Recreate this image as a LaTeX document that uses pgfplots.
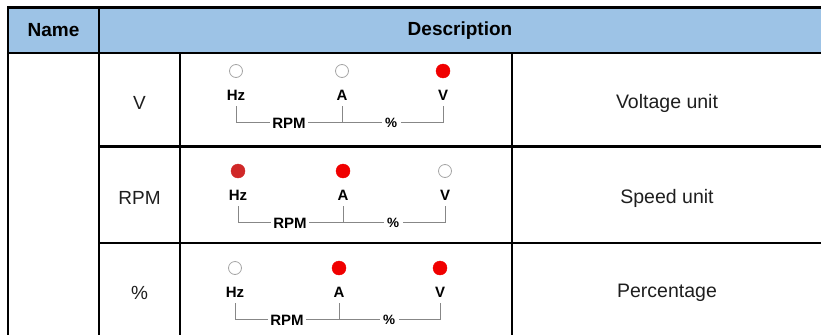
\documentclass[border=0pt]{standalone}
\usepackage{pgfplots}
\pgfplotsset{compat=1.18}
\usepackage{fontspec}
\setmainfont{Liberation Sans}
\definecolor{hdr}{RGB}{157,195,230}
\definecolor{ledon}{RGB}{240,0,0}
\definecolor{leddark}{RGB}{208,40,40}
\definecolor{brk}{RGB}{135,135,135}
\definecolor{txt}{RGB}{30,30,30}
\begin{document}
\begin{tikzpicture}
\begin{axis}[width=821pt, height=335pt, scale only axis,
  xmin=0, xmax=821, ymin=0, ymax=335, y dir=reverse,
  hide axis, clip=false]
\path (axis cs:0,0) coordinate (TL) (axis cs:821,335) coordinate (BR);
% header
\fill[hdr] (axis cs:8,7.5) rectangle (axis cs:821,53);
% grid lines
\draw[black, line width=2.4pt] (axis cs:8,7.5) -- (axis cs:821,7.5);
\draw[black, line width=2.4pt] (axis cs:8,53) -- (axis cs:821,53);
\draw[black, line width=2.4pt] (axis cs:8,6.3) -- (axis cs:8,335);
\draw[black, line width=2.4pt] (axis cs:99,6.3) -- (axis cs:99,335);
\draw[black, line width=2.4pt] (axis cs:180,53) -- (axis cs:180,335);
\draw[black, line width=2.4pt] (axis cs:512,53) -- (axis cs:512,335);
\draw[black, line width=2.4pt] (axis cs:99,146.5) -- (axis cs:821,146.5);
\draw[black, line width=2.4pt] (axis cs:99,243) -- (axis cs:821,243);
% header text
\node[font=\fontsize{19}{22}\selectfont\bfseries] at (axis cs:53.5,30.5) {Name};
\node[font=\fontsize{19}{22}\selectfont\bfseries] at (axis cs:460,30.5) {Description};
% name column texts
\node[txt, font=\fontsize{19}{22}\selectfont] at (axis cs:139.5,103) {V};
\node[txt, font=\fontsize{19}{22}\selectfont] at (axis cs:139.5,198) {RPM};
\node[txt, font=\fontsize{19}{22}\selectfont] at (axis cs:139.5,293) {\%};
% description texts
\node[txt, font=\fontsize{19.5}{22}\selectfont] at (axis cs:667,103) {Voltage unit};
\node[txt, font=\fontsize{19.5}{22}\selectfont] at (axis cs:667,198) {Speed unit};
\node[txt, font=\fontsize{19.5}{22}\selectfont] at (axis cs:667,293) {Percentage};
% row 1 indicator diagram (c=71)
\draw[brk, line width=0.9pt] (axis cs:236,106) |- (axis cs:443,122) -- (axis cs:443,106);
\draw[brk, line width=0.9pt] (axis cs:342,106) -- (axis cs:342,122);
\node[font=\fontsize{15}{17}\selectfont\bfseries] at (axis cs:236,95) {Hz};
\node[font=\fontsize{15}{17}\selectfont\bfseries] at (axis cs:342,95) {A};
\node[font=\fontsize{15}{17}\selectfont\bfseries] at (axis cs:443,95) {V};
\node[fill=white, inner sep=2.5pt, font=\fontsize{15}{17}\selectfont\bfseries] at (axis cs:289,123) {RPM};
\node[fill=white, inner sep=3.5pt, font=\fontsize{13.5}{16}\selectfont\bfseries] at (axis cs:391,123) {\%};
% row 2 (c=171)
\draw[brk, line width=0.9pt] (axis cs:238,206) |- (axis cs:445,222) -- (axis cs:445,206);
\draw[brk, line width=0.9pt] (axis cs:343,206) -- (axis cs:343,222);
\node[font=\fontsize{15}{17}\selectfont\bfseries] at (axis cs:238,195) {Hz};
\node[font=\fontsize{15}{17}\selectfont\bfseries] at (axis cs:343,195) {A};
\node[font=\fontsize{15}{17}\selectfont\bfseries] at (axis cs:445,195) {V};
\node[fill=white, inner sep=2.5pt, font=\fontsize{15}{17}\selectfont\bfseries] at (axis cs:290,223) {RPM};
\node[fill=white, inner sep=3.5pt, font=\fontsize{13.5}{16}\selectfont\bfseries] at (axis cs:393,223) {\%};
% row 3 (c=268)
\draw[brk, line width=0.9pt] (axis cs:235,303) |- (axis cs:440,319) -- (axis cs:440,303);
\draw[brk, line width=0.9pt] (axis cs:339,303) -- (axis cs:339,319);
\node[font=\fontsize{15}{17}\selectfont\bfseries] at (axis cs:235,292) {Hz};
\node[font=\fontsize{15}{17}\selectfont\bfseries] at (axis cs:339,292) {A};
\node[font=\fontsize{15}{17}\selectfont\bfseries] at (axis cs:440,292) {V};
\node[fill=white, inner sep=2.5pt, font=\fontsize{15}{17}\selectfont\bfseries] at (axis cs:287,320) {RPM};
\node[fill=white, inner sep=3.5pt, font=\fontsize{13.5}{16}\selectfont\bfseries] at (axis cs:389,320) {\%};
% LEDs: off
\addplot[only marks, mark=*, mark size=6.5pt,
  mark options={fill=white, draw=black!35, line width=0.8pt}]
  coordinates {(236,71) (342,71) (445,171) (235,268)};
% LEDs: on (bright red)
\addplot[only marks, mark=*, mark size=7pt,
  mark options={fill=ledon, draw=ledon}]
  coordinates {(443,71) (343,171) (339,268) (440,268)};
% LED: on (darker red)
\addplot[only marks, mark=*, mark size=7pt,
  mark options={fill=leddark, draw=leddark}]
  coordinates {(238,171)};
\end{axis}
\pgfresetboundingbox
\path (TL) rectangle (BR);
\end{tikzpicture}
\end{document}
